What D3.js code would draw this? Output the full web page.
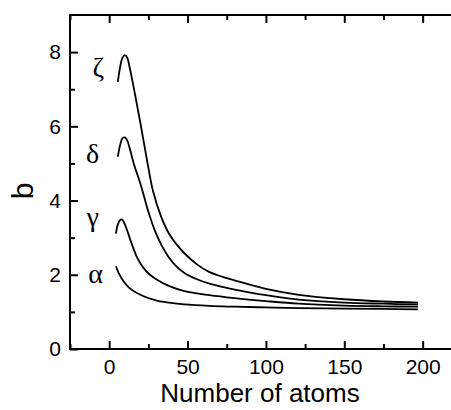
<!DOCTYPE html>
<html>
<head>
<meta charset="utf-8">
<script src="https://cdn.jsdelivr.net/npm/d3@7"></script>
<style>
  body { margin: 0; background: #fff; }
  svg { display: block; }
  .axis line { stroke: #000; stroke-width: 2px; }
  .axis text { font-family: Arial, "Liberation Sans", sans-serif; font-size: 21px; fill: #000; }
  .frame { fill: none; stroke: #000; stroke-width: 2px; }
  .line { fill: none; stroke: #000; stroke-width: 1.8px; }
</style>
</head>
<body>
<svg width="451" height="410"></svg>
<script>
// series names and values (x = number of atoms, y = b)
var names = ["ζ", "δ", "γ", "α"];

var zetaX = [5.5, 7, 8.5, 10, 11.5, 13, 16, 20, 24.5, 28, 33, 38, 43, 48, 56, 64, 72, 80, 100, 121, 150, 175, 197];
var zetaY = [7.2, 7.6, 7.85, 7.92, 7.85, 7.6, 6.97, 6.07, 5.0, 4.25, 3.58, 3.12, 2.82, 2.58, 2.28, 2.07, 1.95, 1.85, 1.62, 1.46, 1.34, 1.28, 1.25];

var deltaX = [5.5, 7, 8.5, 10, 11.5, 13, 16, 18, 21, 25, 30, 34, 38, 43, 48, 56, 64, 80, 100, 121, 150, 175, 197];
var deltaY = [5.18, 5.5, 5.68, 5.7, 5.62, 5.42, 4.95, 4.7, 4.3, 3.7, 3.1, 2.75, 2.47, 2.22, 2.05, 1.88, 1.76, 1.6, 1.45, 1.33, 1.25, 1.22, 1.2];

var gammaX = [4.3, 5.5, 7, 8, 9, 11, 14, 18, 22, 26, 31, 38, 48, 64, 80, 100, 121, 150, 175, 197];
var gammaY = [3.11, 3.35, 3.47, 3.49, 3.45, 3.25, 2.88, 2.45, 2.18, 2.0, 1.85, 1.7, 1.56, 1.45, 1.37, 1.29, 1.22, 1.17, 1.15, 1.14];

var alphaX = [4.3, 6, 8, 10, 13, 18, 25, 31, 38, 48, 64, 80, 100, 121, 150, 175, 197];
var alphaY = [2.23, 2.05, 1.9, 1.78, 1.64, 1.5, 1.37, 1.3, 1.25, 1.2, 1.16, 1.14, 1.12, 1.1, 1.09, 1.08, 1.07];

var xMajor = [0, 50, 100, 150, 200];
var xMinor = [-25, 25, 75, 125, 175];
var yMajor = [0, 2, 4, 6, 8];
var yMinor = [1, 3, 5, 7];

var svg = d3.select("svg"),
    margin = {top: 15, right: -3, bottom: 61, left: 70},
    width = svg.attr("width") - margin.left - margin.right,
    height = svg.attr("height") - margin.top - margin.bottom,
    g = svg.append("g").attr("transform", "translate(" + margin.left + "," + margin.top + ")");

var x = d3.scaleLinear().domain([-25, 220]).range([0, width]),
    y = d3.scaleLinear().domain([0, 9]).range([height, 0]);

var series = [
  {id: names[0], xs: zetaX, ys: zetaY, lx: -7, ly: 7.32},
  {id: names[1], xs: deltaX, ys: deltaY, lx: -10.5, ly: 5.0},
  {id: names[2], xs: gammaX, ys: gammaY, lx: -10.5, ly: 3.31},
  {id: names[3], xs: alphaX, ys: alphaY, lx: -8.6, ly: 1.78}
].map(function(s) {
  s.values = s.xs.map(function(v, i) { return {x: v, y: s.ys[i]}; });
  return s;
});

var line = d3.line()
    .curve(d3.curveCatmullRom.alpha(0.5))
    .x(function(d) { return x(d.x); })
    .y(function(d) { return y(d.y); });

// ticks all point inward; each axis drawn twice (major + minor)
function ticks(axis, values, size, fmt, pad) {
  return function(sel) {
    sel.call(axis.tickValues(values).tickSize(size).tickPadding(pad || 3).tickFormat(fmt))
       .call(function(a) { a.select(".domain").remove(); });
  };
}

g.append("g").attr("class", "axis")
    .attr("transform", "translate(0," + height + ")")
    .call(ticks(d3.axisBottom(x), xMajor, -8, d3.format("d"), 10));
g.append("g").attr("class", "axis")
    .attr("transform", "translate(0," + height + ")")
    .call(ticks(d3.axisBottom(x), xMinor, -5, ""));

g.append("g").attr("class", "axis")
    .call(ticks(d3.axisTop(x), xMajor, -8, ""));
g.append("g").attr("class", "axis")
    .call(ticks(d3.axisTop(x), xMinor, -5, ""));

g.append("g").attr("class", "axis")
    .call(ticks(d3.axisLeft(y), yMajor, -8, d3.format("d"), 9));
g.append("g").attr("class", "axis")
    .call(ticks(d3.axisLeft(y), yMinor, -5, ""));

g.append("rect")
    .attr("class", "frame")
    .attr("width", width)
    .attr("height", height);

// axis titles
g.append("text")
    .attr("x", width / 2 - 2)
    .attr("y", height + 53)
    .attr("text-anchor", "middle")
    .style("font", "26px Arial, 'Liberation Sans', sans-serif")
    .text("Number of atoms");

g.append("text")
    .attr("transform", "translate(" + (33 - margin.left) + "," + (y(4.5) + 9) + ") rotate(-90)")
    .attr("text-anchor", "middle")
    .style("font", "30px Arial, 'Liberation Sans', sans-serif")
    .text("b");

// curves
var curve = g.selectAll(".curve")
  .data(series)
  .enter().append("g")
    .attr("class", "curve");

curve.append("path")
    .attr("class", "line")
    .attr("d", function(d) { return line(d.values); });

curve.append("text")
    .attr("x", function(d) { return x(d.lx); })
    .attr("y", function(d) { return y(d.ly); })
    .attr("text-anchor", "middle")
    .style("font", "28px 'Liberation Serif', 'DejaVu Serif', serif")
    .text(function(d) { return d.id; });
</script>
</body>
</html>
